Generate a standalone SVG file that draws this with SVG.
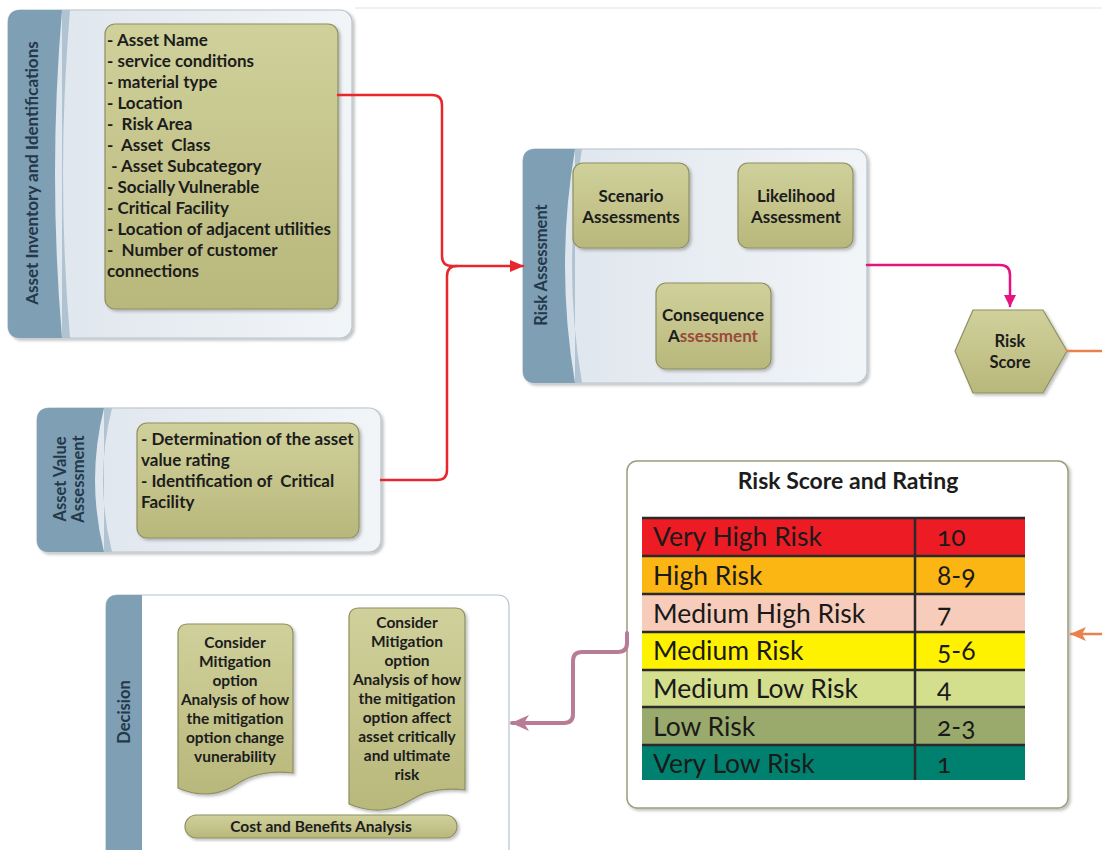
<svg xmlns="http://www.w3.org/2000/svg" width="1102" height="850" viewBox="0 0 1102 850">
<defs>
<linearGradient id="olive" x1="0" y1="0" x2="0" y2="1"><stop offset="0" stop-color="#d0d09b"/><stop offset="1" stop-color="#b8b87c"/></linearGradient>
<linearGradient id="body" x1="0" y1="0" x2="1" y2="0"><stop offset="0" stop-color="#dde4ec"/><stop offset="1" stop-color="#f2f5f8"/></linearGradient>
<filter id="sh" x="-10%" y="-10%" width="125%" height="125%"><feDropShadow dx="2" dy="2" stdDeviation="1.5" flood-color="#000" flood-opacity="0.25"/></filter>
<marker id="aRed" markerWidth="14" markerHeight="12" refX="13" refY="6" orient="auto" markerUnits="userSpaceOnUse"><path d="M0,0 L14,6 L0,12 Z" fill="#e8262b"/></marker>
<marker id="aMag" markerWidth="12" markerHeight="12" refX="11" refY="6" orient="auto" markerUnits="userSpaceOnUse"><path d="M0,0 L12,6 L0,12 Z" fill="#e5137f"/></marker>
<marker id="aOr" markerWidth="16" markerHeight="14" refX="15" refY="7" orient="auto" markerUnits="userSpaceOnUse"><path d="M0,0 L16,7 L0,14 L4,7 Z" fill="#e8814c"/></marker>
<marker id="aMau" markerWidth="18" markerHeight="16" refX="17" refY="8" orient="auto" markerUnits="userSpaceOnUse"><path d="M0,0 L18,8 L0,16 L5,8 Z" fill="#b97c95"/></marker>
</defs>
<style>
.cont{fill:url(#body);stroke:#b6c3cd;stroke-width:1.2}
.band{fill:#7f9fb4}
.strip{fill:#afc3d0}
.box{fill:url(#olive);stroke:#8e9060;stroke-width:1.2}
.t{font-family:Lato,"Open Sans","Liberation Sans",sans-serif;font-weight:bold;font-size:16.5px;fill:#1c1c1c}
.m{font-size:17px}
.d{font-size:15.5px}
.c{text-anchor:middle}
.lab{font-family:Lato,"Open Sans","Liberation Sans",sans-serif;font-weight:bold;font-size:16.5px;fill:#23384a;text-anchor:middle}
.row{font-family:Lato,"Open Sans","Liberation Sans",sans-serif;font-size:26.5px;fill:#1a1a1a}
.num{font-variant-numeric:oldstyle-nums}
.con{fill:none;stroke-linecap:round;stroke-linejoin:round}
</style>
<line x1="355" y1="8" x2="1102" y2="8" stroke="#e2e2e2" stroke-width="1"/>

<g id="asset-inventory">
<rect class="cont" x="8" y="10" width="344" height="328" rx="12" filter="url(#sh)"/>
<path class="strip" d="M62,10 H70 Q56,174 70,338 H62 Z"/>
<path class="band" d="M20,10 H62 Q48,174 62,338 H20 Q8,338 8,326 V22 Q8,10 20,10 Z"/>
<text class="lab" style="font-size:17px" transform="translate(38,173) rotate(-90)">Asset Inventory and Identifications</text>
<rect class="box" x="105" y="24" width="233" height="285" rx="10" filter="url(#sh)"/>
<text class="t m" xml:space="preserve"><tspan x="107" y="46">- Asset Name</tspan><tspan x="107" y="67">- service conditions</tspan><tspan x="107" y="88">- material type</tspan><tspan x="107" y="109">- Location</tspan><tspan x="107" y="130">-  Risk Area</tspan><tspan x="107" y="151">-  Asset  Class</tspan><tspan x="107" y="172"> - Asset Subcategory</tspan><tspan x="107" y="193">- Socially Vulnerable</tspan><tspan x="107" y="214">- Critical Facility</tspan><tspan x="107" y="235">- Location of adjacent utilities</tspan><tspan x="107" y="256">-  Number of customer</tspan><tspan x="107" y="277">connections</tspan></text>
</g>

<g id="asset-value">
<rect class="cont" x="37" y="408" width="344" height="144" rx="12" filter="url(#sh)"/>
<path class="strip" d="M104,408 H112 Q94,480 112,552 H104 Z"/>
<path class="band" d="M49,408 H104 Q86,480 104,552 H49 Q37,552 37,540 V420 Q37,408 49,408 Z"/>
<text class="lab" transform="translate(66,479) rotate(-90)">Asset Value</text>
<text class="lab" transform="translate(84,479) rotate(-90)">Assessment</text>
<rect class="box" x="137" y="423" width="222" height="115" rx="10" filter="url(#sh)"/>
<text class="t m" xml:space="preserve"><tspan x="141" y="445">- Determination of the asset</tspan><tspan x="141" y="466">value rating</tspan><tspan x="141" y="487">- Identification of  Critical</tspan><tspan x="141" y="508">Facility</tspan></text>
</g>

<g id="risk-assessment">
<rect class="cont" x="523" y="149" width="344" height="234" rx="12" filter="url(#sh)"/>
<path class="strip" d="M575,149 H582 Q562,266 582,383 H575 Z"/>
<path class="band" d="M535,149 H575 Q555,266 575,383 H535 Q523,383 523,371 V161 Q523,149 535,149 Z"/>
<text class="lab" transform="translate(547,265) rotate(-90)">Risk Assessment</text>
</g>
<g id="scenario">
<rect class="box" x="573" y="163" width="116" height="85" rx="10" filter="url(#sh)"/>
<text class="t c m"><tspan x="631" y="202">Scenario</tspan><tspan x="631" y="223">Assessments</tspan></text>
</g>
<g id="likelihood">
<rect class="box" x="738" y="163" width="115" height="85" rx="10" filter="url(#sh)"/>
<text class="t c m"><tspan x="796" y="202">Likelihood</tspan><tspan x="796" y="223">Assessment</tspan></text>
</g>
<g id="consequence">
<rect class="box" x="656" y="283" width="115" height="86" rx="10" filter="url(#sh)"/>
<text class="t c m"><tspan x="713" y="321">Consequence</tspan><tspan x="713" y="342">A<tspan fill="#9a4a3a">ssessment</tspan></tspan></text>
</g>

<g id="risk-score">
<path d="M973,310 H1043 L1067,351 L1043,393 H973 L955,351 Z" fill="url(#olive)" stroke="#8e9060" stroke-width="1.2" stroke-linejoin="round" filter="url(#sh)"/>
<text class="t c"><tspan x="1010" y="347">Risk</tspan><tspan x="1010" y="368">Score</tspan></text>
</g>

<g id="rating">
<rect x="627" y="461" width="441" height="347" rx="10" fill="#ffffff" stroke="#9c9d7c" stroke-width="1.5" filter="url(#sh)"/>
<text class="t c" style="font-size:23px" x="848" y="489">Risk Score and Rating</text>
<rect x="642" y="518" width="383" height="38" fill="#ed1c24"/>
<rect x="642" y="556" width="383" height="38" fill="#fcb614"/>
<rect x="642" y="594" width="383" height="38" fill="#f8ccbb"/>
<rect x="642" y="632" width="383" height="38" fill="#fff200"/>
<rect x="642" y="670" width="383" height="37" fill="#d3df8c"/>
<rect x="642" y="707" width="383" height="38" fill="#99aa6c"/>
<rect x="642" y="745" width="383" height="35" fill="#008170"/>
<g stroke="#2a2a2a" stroke-width="2.5">
<line x1="642" y1="518" x2="1025" y2="518"/>
<line x1="642" y1="556" x2="1025" y2="556"/>
<line x1="642" y1="594" x2="1025" y2="594"/>
<line x1="642" y1="632" x2="1025" y2="632"/>
<line x1="642" y1="670" x2="1025" y2="670"/>
<line x1="642" y1="707" x2="1025" y2="707"/>
<line x1="642" y1="745" x2="1025" y2="745"/>
<line x1="915" y1="518" x2="915" y2="780"/>
</g>
<text class="row" x="653" y="546">Very High Risk</text>
<text class="row" x="653" y="585">High Risk</text>
<text class="row" x="653" y="623">Medium High Risk</text>
<text class="row" x="653" y="660">Medium Risk</text>
<text class="row" x="653" y="698">Medium Low Risk</text>
<text class="row" x="653" y="736">Low Risk</text>
<text class="row" x="653" y="773">Very Low Risk</text>
<g class="row num">
<text x="937" y="546">10</text>
<text x="937" y="585">8-9</text>
<text x="937" y="623">7</text>
<text x="937" y="660">5-6</text>
<text x="937" y="698">4</text>
<text x="937" y="736">2-3</text>
<text x="937" y="773">1</text>
</g>
</g>

<g id="decision">
<path d="M118,595 H497 Q509,595 509,607 V852 H106 V607 Q106,595 118,595 Z" fill="#ffffff" stroke="#b6c3cd" stroke-width="1.2"/>
<path class="band" d="M118,595 H142 V852 H106 V607 Q106,595 118,595 Z"/>
<text class="lab" transform="translate(130,712) rotate(-90)">Decision</text>
</g>
<g id="doc-vulnerability">
<path class="box" filter="url(#sh)" d="M188,624 H283 Q293,624 293,634 V773 C270,770 252,774 237,784 C220,796 198,797 178,788 V634 Q178,624 188,624 Z"/>
<text class="t c d"><tspan x="235" y="648">Consider</tspan><tspan x="235" y="667">Mitigation</tspan><tspan x="235" y="686">option</tspan><tspan x="235" y="705">Analysis of how</tspan><tspan x="235" y="724">the mitigation</tspan><tspan x="235" y="743">option change</tspan><tspan x="235" y="762">vunerability</tspan></text>
</g>
<g id="doc-risk">
<path class="box" filter="url(#sh)" d="M359,608 H455 Q465,608 465,618 V790 C442,787 424,791 409,801 C392,812 370,813 349,804 V618 Q349,608 359,608 Z"/>
<text class="t c d"><tspan x="407" y="628">Consider</tspan><tspan x="407" y="647">Mitigation</tspan><tspan x="407" y="666">option</tspan><tspan x="407" y="685">Analysis of how</tspan><tspan x="407" y="704">the mitigation</tspan><tspan x="407" y="723">option affect</tspan><tspan x="407" y="742">asset critically</tspan><tspan x="407" y="761">and ultimate</tspan><tspan x="407" y="780">risk</tspan></text>
</g>
<g id="cost-benefit">
<rect class="box" x="185" y="815" width="272" height="23" rx="11.5" filter="url(#sh)"/>
<text class="t c d" x="321" y="832">Cost and Benefits Analysis</text>
</g>

<g id="connectors">
<path class="con" stroke="#e8262b" stroke-width="2.5" d="M338,95 H432 Q442,95 442,105 V256 Q442,266 452,266 H523" marker-end="url(#aRed)"/>
<path class="con" stroke="#e8262b" stroke-width="2.5" d="M381,480 H437 Q447,480 447,470 V276 Q447,266 457,266"/>
<path class="con" stroke="#e5137f" stroke-width="2.5" d="M867,265 H1000 Q1010,265 1010,275 V306" marker-end="url(#aMag)"/>
<path class="con" stroke="#e8814c" stroke-width="2.5" d="M1067,351 H1108 V634 H1071" marker-end="url(#aOr)"/>
<path class="con" stroke="#b97c95" stroke-width="4" d="M627,633 V643 Q627,652 618,652 H582 Q573,652 573,661 V714 Q573,723 564,723 H512" marker-end="url(#aMau)"/>
</g>
</svg>
